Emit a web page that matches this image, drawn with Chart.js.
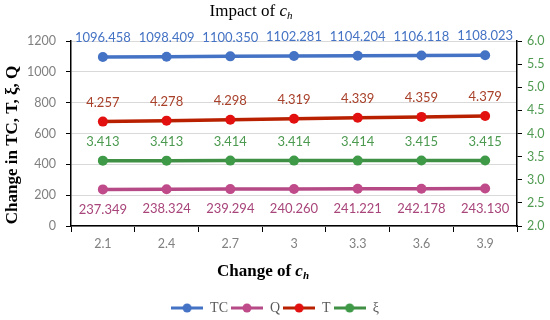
<!DOCTYPE html>
<html>
<head>
<meta charset="utf-8">
<script src="https://cdn.jsdelivr.net/npm/chart.js@4.4.1/dist/chart.umd.min.js"></script>
<style>
  html, body { margin: 0; padding: 0; background: #fff; }
</style>
</head>
<body>
<canvas id="impactChart" width="550" height="320"></canvas>
<script>
// values
const categories = ['2.1', '2.4', '2.7', '3', '3.3', '3.6', '3.9'];
const tcValues = [1096.458, 1098.409, 1100.350, 1102.281, 1104.204, 1106.118, 1108.023];
const qValues = [237.349, 238.324, 239.294, 240.260, 241.221, 242.178, 243.130];
const tValues = [4.257, 4.278, 4.298, 4.319, 4.339, 4.359, 4.379];
const xiValues = [3.413, 3.413, 3.414, 3.414, 3.414, 3.415, 3.415];
const leftTicks = [0, 200, 400, 600, 800, 1000, 1200];
const rightTicks = [2.0, 2.5, 3.0, 3.5, 4.0, 4.5, 5.0, 5.5, 6.0];

const tickFont = { family: 'Lato', size: 12.5 };

// small line+dot icons for the legend
function legendIcon(lineColor, dotColor) {
    const c = document.createElement('canvas');
    c.width = 32; c.height = 12;
    const g = c.getContext('2d');
    g.strokeStyle = lineColor; g.lineWidth = 3;
    g.beginPath(); g.moveTo(0, 6); g.lineTo(32, 6); g.stroke();
    g.fillStyle = dotColor;
    g.beginPath(); g.arc(16, 6, 4.5, 0, Math.PI * 2); g.fill();
    return c;
}

// draw text pieces in a row, e.g. "c" + subscript "h"
function drawPieces(ctx, pieces, cx, cy) {
    let total = 0;
    pieces.forEach(p => { ctx.font = p.font; p.w = ctx.measureText(p.text).width; total += p.w; });
    let x = cx - total / 2;
    pieces.forEach(p => {
        ctx.font = p.font;
        ctx.fillText(p.text, x, cy + (p.dy || 0));
        x += p.w;
    });
}

const valueLabels = {
    id: 'valueLabels',
    afterDatasetsDraw(chart) {
        const ctx = chart.ctx;
        chart.data.datasets.forEach((ds, i) => {
            const meta = chart.getDatasetMeta(i);
            ctx.save();
            ctx.font = '13px Lato';
            ctx.fillStyle = ds.labelColor;
            ctx.textAlign = 'center';
            ctx.textBaseline = 'middle';
            meta.data.forEach((pt, j) => {
                ctx.fillText(ds.data[j].toFixed(3), pt.x, pt.y + ds.labelOffset);
            });
            ctx.restore();
        });
    }
};

const titles = {
    id: 'titles',
    afterDraw(chart) {
        const ctx = chart.ctx;
        ctx.save();
        ctx.textBaseline = 'middle';
        ctx.textAlign = 'left';
        ctx.fillStyle = '#000';
        drawPieces(ctx, [
            { text: 'Impact of ', font: '17px "Liberation Serif"' },
            { text: 'c', font: 'italic 17px "Liberation Serif"' },
            { text: 'h', font: 'italic 11px "Liberation Serif"', dy: 4 }
        ], 251, 12);
        drawPieces(ctx, [
            { text: 'Change of ', font: 'bold 17px "Liberation Serif"' },
            { text: 'c', font: 'bold italic 17px "Liberation Serif"' },
            { text: 'h', font: 'bold italic 11px "Liberation Serif"', dy: 4 }
        ], 263, 272);
        ctx.translate(13, 145);
        ctx.rotate(-Math.PI / 2);
        ctx.textAlign = 'center';
        ctx.font = 'bold 17px "Liberation Serif"';
        ctx.fillText('Change in TC, T, \u03BE, Q', 0, 0);
        ctx.restore();
    }
};

const icons = [
    legendIcon('#4472C4', '#4472C4'),
    legendIcon('#B54A86', '#C04B8A'),
    legendIcon('#B82000', '#E31010'),
    legendIcon('#3F8F45', '#3F9A48')
];

new Chart(document.getElementById('impactChart'), {
    type: 'line',
    data: {
        labels: categories,
        datasets: [
            { label: 'TC', data: tcValues, yAxisID: 'y', borderColor: '#4472C4', backgroundColor: '#4472C4',
              labelColor: '#4472C4', labelOffset: -19 },
            { label: 'Q', data: qValues, yAxisID: 'y', borderColor: '#B54A86', backgroundColor: '#C04B8A',
              labelColor: '#A8457A', labelOffset: 20 },
            { label: 'T', data: tValues, yAxisID: 'y2', borderColor: '#B82000', backgroundColor: '#E31010',
              labelColor: '#A8402A', labelOffset: -19 },
            { label: '\u03BE', data: xiValues, yAxisID: 'y2', borderColor: '#3F8F45', backgroundColor: '#3F9A48',
              labelColor: '#4C9A50', labelOffset: -19 }
        ]
    },
    options: {
        responsive: false,
        animation: false,
        layout: { padding: { top: 41, left: 0, right: 0, bottom: -5 } },
        elements: {
            line: { borderWidth: 3.5, tension: 0 },
            point: { radius: 5, borderWidth: 0, hoverRadius: 5 }
        },
        scales: {
            x: {
                type: 'category',
                offset: true,
                grid: { offset: true, drawOnChartArea: false, tickColor: '#000', tickLength: 6 },
                border: { color: '#000', width: 1.5 },
                ticks: { color: '#808080', font: tickFont, padding: 4 },
                afterFit(scale) { scale.height = 72; }
            },
            y: {
                position: 'left',
                min: 0, max: 1200,
                afterBuildTicks(scale) { scale.ticks = leftTicks.map(v => ({ value: v })); },
                grid: { color: '#D9D9D9', tickColor: '#000', tickLength: 5 },
                border: { color: '#000', width: 1.5 },
                ticks: { color: '#808080', font: tickFont, padding: 10, callback: v => String(v) },
                afterFit(scale) { scale.width = 71; }
            },
            y2: {
                position: 'right',
                min: 2, max: 6,
                afterBuildTicks(scale) { scale.ticks = rightTicks.map(v => ({ value: v })); },
                grid: { drawOnChartArea: false, tickColor: '#000', tickLength: 5 },
                border: { color: '#000', width: 1.5 },
                ticks: { color: '#4E9A50', font: tickFont, padding: 5, callback: v => Number(v).toFixed(1) },
                afterFit(scale) { scale.width = 33; }
            }
        },
        plugins: {
            title: { display: false },
            tooltip: { enabled: false },
            legend: {
                position: 'bottom',
                labels: {
                    usePointStyle: true,
                    pointStyleWidth: 32,
                    padding: 3,
                    color: '#595959',
                    font: { family: 'Liberation Serif', size: 14 },
                    generateLabels(chart) {
                        const items = Chart.defaults.plugins.legend.labels.generateLabels(chart);
                        items.forEach((it, i) => { it.pointStyle = icons[i]; });
                        return items;
                    }
                }
            }
        }
    },
    plugins: [valueLabels, titles]
});
</script>
</body>
</html>
